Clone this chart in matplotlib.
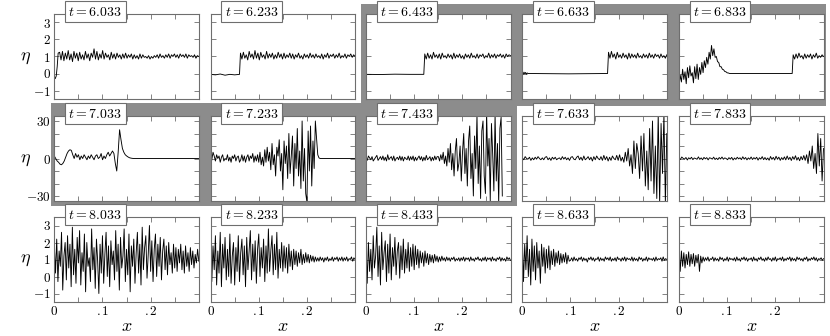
import numpy as np
import matplotlib.pyplot as plt
from matplotlib.patches import Rectangle

plt.rcParams['mathtext.fontset'] = 'cm'
plt.rcParams['font.family'] = 'serif'
plt.rcParams['font.serif'] = ['DejaVu Serif']

# ---- data: each panel is a list of pieces (x_start, x_end, eta values spread evenly) ----
times = ["6.033", "6.233", "6.433", "6.633", "6.833",
         "7.033", "7.233", "7.433", "7.633", "7.833",
         "8.033", "8.233", "8.433", "8.633", "8.833"]

eta_6033 = [
    (0.0, 0.008, [-0.2, -0.3, -0.15, 0.4, 1.2]),
    (0.011, 0.3, [1.25, 0.8, 1.3, 0.75, 1.2, 0.85, 1.35, 0.8, 1.15, 0.7, 1.3, 0.9, 1.2, 0.75, 1.25, 0.85,
                  1.1, 0.8, 1.3, 0.9, 1.15, 0.75, 1.2, 0.95, 1.45, 0.85, 1.3, 0.8, 1.15, 0.9, 1.35, 0.85,
                  1.2, 0.95, 1.1, 0.8, 1.25, 0.9, 1.15, 0.85, 1.2, 0.95, 1.1, 0.85, 1.15, 0.9, 1.2, 0.9,
                  1.1, 0.95, 1.15, 0.85, 1.1, 0.9, 1.05, 0.85, 1.15, 0.9, 1.1, 0.95, 1.0, 0.9, 1.05, 0.85,
                  1.0, 0.9, 1.05, 0.95, 1.1, 0.9, 1.15, 0.95, 1.05, 0.9, 1.1, 0.95, 1.15, 0.9, 1.1, 1.0,
                  1.15, 0.95, 1.1, 0.9, 1.15, 1.0, 1.1, 0.95, 1.15, 0.9, 1.1, 1.0, 1.05, 0.95, 1.1, 0.9,
                  1.05, 1.0]),
]
eta_6233 = [
    (0.0, 0.06, [-0.05, -0.08, -0.03, -0.1, -0.05, -0.08, -0.05]),
    (0.062, 0.3, [1.2, 0.85, 1.25, 0.9, 1.1, 0.8, 1.3, 0.95, 1.15, 0.85, 1.35, 0.9, 1.2, 0.8, 1.25, 0.95,
                  1.1, 0.85, 1.3, 0.9, 1.15, 0.95, 1.2, 0.85, 1.1, 0.9, 1.25, 0.95, 1.15, 0.85, 1.2, 0.9,
                  1.1, 0.95, 1.2, 0.9, 1.15, 0.85, 1.1, 0.95, 1.2, 0.9, 1.05, 0.85, 1.15, 0.95, 1.1, 0.9,
                  1.2, 0.95, 1.1, 0.9, 1.15, 0.95, 1.05, 0.9, 1.15, 0.85, 1.1, 0.95, 1.2, 0.9, 1.1, 1.0,
                  1.15, 0.9, 1.1, 0.95, 1.2, 0.9, 1.05, 0.95, 1.15, 0.9, 1.1, 1.0, 1.15, 0.95, 1.1, 1.0]),
]
eta_6433 = [
    (0.0, 0.12, [-0.05, -0.06, -0.04, -0.05, -0.05]),
    (0.122, 0.3, [1.15, 0.85, 1.2, 0.9, 1.1, 0.85, 1.25, 0.95, 1.1, 0.9, 1.15, 0.85, 1.2, 0.95, 1.05, 0.9,
                  1.15, 0.95, 1.1, 0.85, 1.2, 0.9, 1.1, 0.95, 1.15, 0.9, 1.05, 0.85, 1.15, 0.95, 1.1, 0.9,
                  1.2, 0.95, 1.05, 0.9, 1.15, 0.9, 1.1, 1.0, 1.15, 0.9, 1.05, 0.95, 1.2, 0.9, 1.1, 0.95,
                  1.15, 0.9, 1.1, 1.0, 1.15, 0.95, 1.1, 0.9, 1.15, 1.0, 1.1, 1.05]),
]
eta_6633 = [
    (0.0, 0.012, [0.05, -0.05, 0.08, -0.02, 0.06, -0.04, 0.03, 0.0]),
    (0.015, 0.177, [0.0, -0.02, 0.0]),
    (0.179, 0.3, [1.25, 0.9, 1.3, 0.95, 1.15, 0.85, 1.25, 0.95, 1.1, 0.9, 1.2, 0.95, 1.1, 0.85, 1.2, 0.9,
                  1.15, 0.95, 1.1, 0.9, 1.2, 0.95, 1.05, 0.9, 1.15, 0.95, 1.1, 0.9, 1.2, 0.95, 1.1, 0.9,
                  1.15, 1.0, 1.1, 0.9, 1.15, 0.95, 1.05, 0.9, 1.1]),
]
eta_6833 = [
    (0.0, 0.105, [-0.7, -0.1, -0.5, 0.25, -0.35, 0.1, -0.6, 0.35, -0.25, 0.45, -0.15, 0.05, -0.55, 0.4,
                  -0.3, 0.55, -0.35, 0.35, -0.05, 0.65, 0.05, 0.75, 0.35, 0.95, 0.55, 1.25, 0.85, 1.65,
                  1.05, 1.45, 0.95, 1.0, 0.7, 0.65, 0.4, 0.4, 0.25, 0.22, 0.12, 0.1, 0.04, 0.03, 0.0]),
    (0.11, 0.235, [0.0, 0.0]),
    (0.237, 0.3, [1.1, 0.85, 1.15, 0.9, 1.2, 0.95, 1.05, 0.85, 1.15, 0.9, 1.1, 0.95, 1.15, 0.85, 1.1, 0.95,
                  1.2, 0.9, 1.05, 0.95, 1.1, 1.0]),
]

eta_7033 = [
    (0.0, 0.165, [2, 0, -2, -3, -4.5, -5, -4, -2, 1, 4, 6, 7, 6.5, 3, 0, 4, 1, 3, -1, 2,
                  0, 3, 1, -1, 2, 0, 3, 1, -1, 2, 3, 0, 1, 4, -1, 2, 0, 3, 5, 2,
                  4, 6, 4, -4, -10, 5, 23, 15, 8, 5, 3, 2, 1.2, 0.6, 0.3, 0.1, 0.0]),
    (0.17, 0.3, [0.0, 0.0]),
]
eta_7233 = [
    (0.0, 0.2275, [-5, -1, 5, 2, -2, 3, 0, 2, -3, 1, 3, -2, 0, -1, 3, -2, 1, -3, 2, 0,
                   3, -2, 1, 2, -3, -1, 3, -2, 2, -3, 1, 3, -2, 2, 0, 4, -3, 2, -2, 3,
                   -3, 5, -5, 1, -6, 7, -3, 9, -2, 5, -9, 12, -5, 3, -14, 9, 2, 15, -10, 4,
                   -25, 14, -4, 10, -16, 20, -12, 2, 18, -22, 12, -8, 24, -14, 6, -24, 30, -18, 8, -28,
                   -35, 22, -10, 26, -22, 14, -8, 30, 16, 3, 0.5, 0]),
    (0.23, 0.3, [0.0, 0.0]),
]
eta_7433 = [
    (0.0, 0.283, [1, -1.5, 2, 0.5, -1, 1.5, -2, -0.5, 1, 2.5, -1.5, 0, 1.5, -1, 2, -1.5, 1, -2, 3, -1,
                  0.5, 1.5, -1.5, 2, -2, 0, 1, -1, 2, -1.5, 1.5, -2, 1, 0, -1, 2, -1.5, 1.5, -1, 2,
                  -2, 1, -1.5, 0.5, 2, -1, 1.5, -2, 1, -1.5, 2.5, -1, 0, 1.5, -2, 1, -1.5, 2, -1, 1.5,
                  1.5, -2, 3, -1, 5, -4, 2, -6, 8, -3, 12, -9, 4, -14, 6, 16, -10, -4, 10, -18,
                  5, 20, -12, 8, -22, 14, 26, -16, 4, -30, 18, -8, 35, -20, 10, -32, 22, 30, -14, -28,
                  36, -6, 16, -34, 28, 4, -26, 36, -18, 12, -36, 24, 33, -30]),
]
eta_7633 = [
    (0.0, 0.3, [0.5, -1, 1.5, 0, -0.5, 1, -1.5, 0.5, -1, 1, -0.5, 1.5, 0, -1, 0.5, -1, 1, 1.5, -1, 0.5,
                -1.5, 1, -0.5, 1, -1, 0, 0.5, -1, 1.5, -0.5, 1, -1, 0.5, -1.5, 1, 1.5, -0.5, -1, 1, 2,
                -1, 1, -1.5, 2, -1, 0, 1.5, -1, 1, -2, 1.5, -1, 2, 0, -1, 1.5, -1.5, 2.5, -1, 1.5,
                -2, 1, -1.5, 2, 0, -1, 2.5, -1.5, 3, -2, 1, -3, 5, -2, 8, -6, 3, -12, 14, -8,
                12, 4, -16, 18, -10, 20, -22, 6, -25, 24, -18, 30, -28, 10, -32, 36, -36, 28, -12, 36, -36, 20]),
]
eta_7833 = [
    (0.0, 0.262, [0.5, -0.8, 1.2, 0.1, -0.5, 0.8, -1.2, 0.6, -0.4, 1.0, -0.9, 0.4, 0.0, -0.6, 1.3, -0.7,
                  0.5, -1.0, 0.9, -0.3, 0.7, -1.1, 0.6, 0.2, -0.5, 1.1, -0.8, 0.3, -0.9, 0.8, -0.4, 1.2,
                  -0.6, 0.5, 0.0, -1.0, 0.7, -0.5, 0.9, -1.2, 0.4, -0.7, 1.0, -0.3, 0.6, -0.9, 1.4, -0.5,
                  0.8, -1.1, 0.5, -0.6, 1.2, -0.8, 0.7, -0.4, 1.0, -1.3, 0.6, -0.5, 1.5, -0.9, 0.8, -1.0,
                  0.4, -1.4, 1.6, -0.7, 0.9, -1.2, 1.8, -0.6, 1.1, -1.5, 0.7, -0.9, 1.3, -1.1, 2.0, -0.8,
                  1.0, -1.6, 1.5, -0.7, 2.2, -1.3, 0.9, -1.8, 1.6, -1.0, 2.4, -1.5]),
    (0.265, 0.3, [3, -4, 6, -2, 10, -8, 4, -12, 20, -6, 16, -18, 8]),
]

eta_8033 = [
    (0.0, 0.3, [1.8, 0.2, 2.2, -0.3, 1.5, 0.6, 2.6, -0.8, 1.2, 2.0, -0.2, 2.4, 0.5, 1.9, -0.6, 2.9, 0.1, 1.6,
                -0.4, 2.3, 0.8, 2.7, -0.5, 1.4, 0.3, 2.5, -0.9, 2.0, 0.6, 1.1, -0.3, 2.8, 0.4, 1.7, -0.7,
                2.2, 0.9, -1.0, 1.9, 0.2, 2.4, -0.4, 1.3, 2.6, 0.0, 1.8, -0.6, 2.1, 0.7, 1.5, -0.2, 2.7,
                0.3, 1.9, -0.8, 2.3, 0.5, 1.2, 2.8, -0.3, 1.6, 0.1, 2.5, -0.9, 1.8, 0.6, 2.2, -0.4, 1.4,
                2.6, 0.2, 1.9, -0.5, 2.9, 0.4, 1.7, 2.4, -0.1, 1.3, 3.0, 0.3, 2.1, -0.3, 1.6, 2.5, 0.0,
                1.9, 0.6, 2.3, -0.2, 1.5, 2.2, 0.4, 1.8, 0.1, 2.0, 0.7, 1.4, 0.2, 1.9, 0.5, 1.7, 0.3,
                1.6, 0.8, 1.9, 0.4, 1.5, 0.2, 1.8, 0.6, 1.4, 0.3, 1.7, 0.7, 1.5, 0.5, 1.3, 0.8, 1.6, 0.9]),
]
eta_8233 = [
    (0.0, 0.3, [2.1, -0.3, 1.8, 0.4, 2.4, -0.5, 1.5, 0.2, 2.6, -0.6, 1.9, 0.5, 2.3, -0.2, 1.6, 0.0, 2.5, -0.4,
                1.2, 2.0, -0.5, 1.7, 0.3, 2.4, -0.3, 1.4, 2.2, 0.1, 1.8, -0.6, 2.3, 0.4, 1.5, 2.7, -0.2,
                1.9, 0.3, 2.1, -0.4, 1.6, 2.5, 0.0, 1.7, 0.5, 2.2, -0.3, 1.8, 0.2, 2.8, 0.3, 1.5, 2.4,
                0.1, 1.9, 0.4, 2.6, -0.1, 1.6, 0.5, 2.0, 0.3, 1.8, 0.5, 1.7, 0.2, 1.9, 0.6, 1.5, 0.4,
                1.6, 0.7, 1.5, 0.6, 1.4, 0.8, 1.6, 0.7, 1.3, 0.8, 1.4, 0.85, 1.3, 0.8, 1.25, 0.9, 1.2,
                0.85, 1.15, 0.9, 1.1, 0.9, 1.15, 0.95, 1.1, 0.85, 1.1, 0.95, 1.15, 0.9, 1.05, 0.95, 1.15,
                0.9, 1.1, 1.0, 1.15, 0.9, 1.1, 0.95, 1.15, 0.9, 1.1, 0.95, 1.15, 0.9, 1.05, 1.0, 1.15,
                0.9, 1.1, 1.0]),
]
eta_8433 = [
    (0.0, 0.3, [2.2, -0.4, 2.0, 0.3, 1.6, -0.2, 2.4, 0.5, 1.2, 2.9, 0.0, 1.8, -0.5, 2.6, 0.4, 1.4, 2.1, -0.3,
                1.9, 0.2, 2.5, -0.2, 1.7, 0.6, 2.3, 0.1, 1.5, 2.0, -0.1, 1.8, 0.4, 2.2, 0.2, 1.6, 0.5,
                2.0, 0.3, 1.7, 0.6, 1.9, 0.4, 1.8, 0.7, 1.6, 0.5, 1.5, 0.8, 1.4, 0.6, 1.5, 0.8, 1.35,
                0.7, 1.3, 0.85, 1.25, 0.8, 1.3, 0.9, 1.2, 0.85, 1.15, 0.9, 1.2, 0.95, 1.1, 0.9, 1.15,
                0.95, 1.1, 0.9, 1.1, 1.0, 1.15, 0.9, 1.05, 0.95, 1.1, 0.9, 1.1, 0.95, 1.15, 0.9, 1.1,
                1.0, 1.1, 0.9, 1.15, 0.95, 1.05, 0.9, 1.1, 1.0, 1.15, 0.95, 1.05, 0.9, 1.1, 0.95, 1.15,
                0.9, 1.1, 1.0, 1.1, 0.9, 1.15, 0.95, 1.05, 0.9, 1.1, 1.0, 1.15, 0.9, 1.1, 0.95, 1.05,
                0.9, 1.15, 1.0, 1.1, 0.95]),
]
eta_8633 = [
    (0.0, 0.0975, [2.3, -0.3, 1.9, 0.4, 2.4, 0.0, 1.6, -0.5, 2.2, 0.3, 1.8, -0.2, 2.0, 0.5, 1.5, -0.4,
                   1.9, 0.6, 1.7, 0.2, 1.6, 0.5, 1.8, 0.4, 1.5, 0.7, 1.6, 0.6, 1.4, 0.8, 1.5, 0.7,
                   1.35, 0.8, 1.3, 0.85, 1.4, 0.75, 1.25, 0.9]),
    (0.1, 0.3, [0.95, 1.1, 0.9, 1.15, 0.95, 1.05, 0.9, 1.1, 1.0, 1.15, 0.9, 1.1, 0.95, 1.05, 0.85, 1.1,
                1.0, 1.15, 0.95, 1.1, 0.9, 1.05, 1.0, 1.15, 0.9, 1.1, 0.95, 1.05, 0.9, 1.15, 1.0, 1.1,
                0.95, 1.15, 0.9, 1.05, 0.95, 1.1, 0.9, 1.15, 1.0, 1.05, 0.9, 1.1, 0.95, 1.15, 0.9, 1.1,
                1.0, 1.05, 0.95, 1.15, 0.9, 1.1, 0.95, 1.05, 0.9, 1.15, 1.0, 1.1, 0.9, 1.05, 0.95, 1.15,
                0.9, 1.1, 1.0, 1.05, 0.95, 1.1, 0.9, 1.15, 0.95, 1.05, 1.0, 1.1, 0.9, 1.15, 0.95, 1.05, 1.0]),
]
eta_8833 = [
    (0.0, 0.05, [1.8, 0.3, 1.5, 0.6, 1.4, 0.5, 1.3, 0.7, 1.45, 0.6, 1.3, 0.75, 1.35, 0.6, 1.25, 0.8,
                 1.3, 0.3, 1.2, 0.8, 1.15]),
    (0.0525, 0.3, [0.9, 1.1, 0.95, 1.15, 0.9, 1.05, 1.0, 1.15, 0.9, 1.1, 0.95, 1.05, 0.9, 1.15, 1.0, 1.1,
                   0.9, 1.05, 0.95, 1.15, 0.9, 1.1, 1.0, 1.05, 0.95, 1.1, 0.9, 1.15, 0.95, 1.05, 0.9, 1.1,
                   1.0, 1.15, 0.95, 1.1, 0.9, 1.05, 1.0, 1.1, 0.9, 1.15, 0.95, 1.05, 0.9, 1.1, 1.0, 1.15,
                   0.95, 1.05, 0.9, 1.1, 0.95, 1.15, 1.0, 1.05, 0.9, 1.1, 0.95, 1.15, 0.9, 1.05, 1.0, 1.1,
                   0.95, 1.15, 0.9, 1.05, 0.95, 1.1, 1.0, 1.15, 0.9, 1.1, 0.95, 1.05, 0.9, 1.15, 1.0, 1.1,
                   0.95, 1.05, 0.9, 1.1, 1.0, 1.15, 0.9, 1.05, 0.95, 1.1, 1.0, 1.15, 0.95, 1.1, 0.9, 1.05,
                   1.0, 1.1, 0.95, 1.05]),
]

panels = [eta_6033, eta_6233, eta_6433, eta_6633, eta_6833,
          eta_7033, eta_7233, eta_7433, eta_7633, eta_7833,
          eta_8033, eta_8233, eta_8433, eta_8633, eta_8833]


def build(pieces):
    xs, ys = [], []
    for x0, x1, vals in pieces:
        xs.append(np.linspace(x0, x1, len(vals)))
        ys.append(np.asarray(vals, dtype=float))
    return np.concatenate(xs), np.concatenate(ys)


# ---- layout in pixels ----
W, H = 830, 336
lefts = [54.3, 210.6, 366.0, 522.3, 679.0]
tops = [14, 116, 217]
aw, ah = 144.5, 85


def frect(x0, y0, x1, y1):
    return (x0 / W, 1 - y1 / H, (x1 - x0) / W, (y1 - y0) / H)


fig = plt.figure(figsize=(W / 100, H / 100), dpi=100)

# gray highlight behind selected panels
gray = '#8c8c8c'
for x0, y0, x1, y1 in [(360.7, 3.5, 826.0, 105.5), (50.5, 103.0, 516.5, 206.0)]:
    l, b, w, h = frect(x0, y0, x1, y1)
    fig.add_artist(Rectangle((l, b), w, h, transform=fig.transFigure,
                             facecolor=gray, edgecolor='none', zorder=-1))

frame = '#6e6e6e'
for i, pieces in enumerate(panels):
    row, col = divmod(i, 5)
    ax = fig.add_axes(frect(lefts[col], tops[row], lefts[col] + aw, tops[row] + ah))
    x, eta = build(pieces)
    ax.plot(x, eta, color='black', lw=0.65)
    ax.set_xlim(0, 0.3)
    ax.set_xticks([0, 0.05, 0.1, 0.15, 0.2, 0.25])
    if row == 1:
        ax.set_ylim(-34, 34)
        ax.set_yticks([-30, -20, -10, 0, 10, 20, 30])
        ylabels = ['$-30$', '', '', '$0$', '', '', '$30$']
    else:
        ax.set_ylim(-1.5, 3.5)
        ax.set_yticks([-1, 0, 1, 2, 3])
        ylabels = ['$-1$', '$0$', '$1$', '$2$', '$3$']
    if col == 0:
        ax.set_yticklabels(ylabels)
        fig.text(25 / W, 1 - (tops[row] + ah / 2) / H, r'$\eta$', fontsize=13,
                 ha='center', va='center')
    else:
        ax.set_yticklabels([])
    ax.tick_params(direction='in', length=3.5, width=0.6, color=frame, labelsize=9.5,
                   top=True, right=True, pad=2.5)
    if row == 2:
        ax.set_xticklabels(['$0$', '', '$.1$', '', '$.2$', ''])
        ax.set_xlabel('$x$', fontsize=13, labelpad=-1)
    else:
        ax.set_xticklabels([])
    for s in ax.spines.values():
        s.set_color(frame)
        s.set_linewidth(0.8)
    ax.annotate('$t=' + times[i] + '$', xy=(0.097, 1.0), xycoords='axes fraction',
                xytext=(0, 1.5), textcoords='offset points', ha='left', va='center',
                fontsize=10, zorder=5, annotation_clip=False,
                bbox=dict(boxstyle='square,pad=0.25', fc='white', ec=frame, lw=0.8))

fig.savefig('out.png', dpi=100)
